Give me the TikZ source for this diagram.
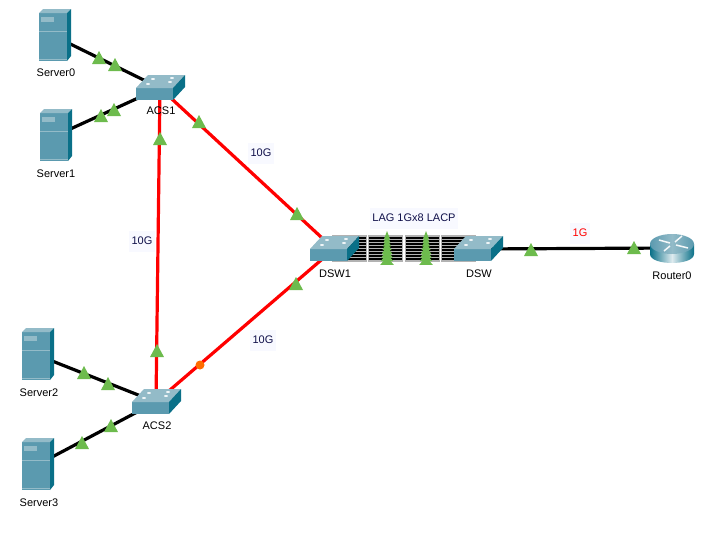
\documentclass[tikz,border=0pt]{standalone}
\usepackage{fontspec}
\setmainfont{Liberation Sans}
\definecolor{srvfront}{HTML}{5B9AAF}
\definecolor{srvtop}{HTML}{93BBC8}
\definecolor{srvside}{HTML}{0A7088}
\definecolor{linkgreen}{HTML}{6DBB4D}
\definecolor{labelbg}{HTML}{F8F9FF}
\definecolor{labelblue}{HTML}{10104A}
\tikzset{
  devname/.style={font=\fontsize{11pt}{13pt}\selectfont, inner sep=0pt, text=black},
  devhub/.style={inner sep=0pt, minimum size=1pt},
  linklabel/.style={font=\fontsize{11pt}{13pt}\selectfont, fill=labelbg, inner xsep=2.5pt, inner ysep=0pt, minimum height=21pt},
  cuwire/.style={color=black, line width=3.2pt},
  fibre/.style={color=red, line width=3.2pt},
}
\newcommand{\Server}[1]{
\fill[srvfront] (#1) ++(-15,-23) rectangle ++(28,48);
\fill[srvtop] (#1) ++(-15,-23) -- ++(4,-4) -- ++(28,0) -- ++(-4,4) -- cycle;
\fill[srvside] (#1) ++(13,-23) -- ++(4,-4) -- ++(0,47) -- ++(-4,5) -- cycle;
\fill[srvtop] (#1) ++(-13,-19) rectangle ++(13,5);
\draw[srvtop, thin] (#1) ++(-15,-5) -- ++(28,0);
\draw[srvtop, thin] (#1) ++(-15,23) -- ++(28,0);
}
\newcommand{\Switch}[1]{
\fill[srvfront] (#1) ++(-24,0) rectangle ++(37,12);
\fill[srvtop] (#1) ++(-24,0) -- ++(12,-13) -- ++(37,0) -- ++(-12,13) -- cycle;
\fill[srvside] (#1) ++(13,0) -- ++(12,-13) -- ++(0,12) -- ++(-12,13) -- cycle;
\foreach \dx/\dy in {-7/-9,12/-10,-12/-4,10/-6}
  \fill[white!85!srvtop] (#1) ++(\dx,\dy) ellipse (2 and 1);
}
\newcommand{\LinkMark}[1]{
\fill[linkgreen] (#1) ++(0,-7) -- ++(7,13) -- ++(-14,0) -- cycle;
}
\begin{document}
\begin{tikzpicture}[x=1pt,y=-1pt]
\useasboundingbox (0,0) rectangle (717,538);

\node[devhub] (server0) at (54,36) {};
\node[devhub] (server1) at (55,136) {};
\node[devhub] (server2) at (37,355) {};
\node[devhub] (server3) at (37,465) {};
\node[devhub] (acs1) at (160,88) {};
\node[devhub] (acs2) at (156,402) {};
\node[devhub] (dsw1) at (334,249) {};
\node[devhub] (dsw) at (478,249) {};
\node[devhub] (router0) at (672,248) {};

% LAG bundle
\foreach \bx in {332.5,369,405.5,442}
  \fill[black!30] (\bx-1,235) rectangle ++(35,26.5);
\foreach \bx in {332.5,369,405.5,442}
  \foreach \by in {236.5,239.5,...,258.5}
    \fill[black] (\bx,\by) rectangle ++(33,2.6);

\draw[cuwire] (server0) -- (acs1);
\draw[cuwire] (server1) -- (acs1);
\draw[cuwire] (server2) -- (acs2);
\draw[cuwire] (server3) -- (acs2);
\draw[cuwire] (dsw) -- (router0);
\draw[fibre] (acs1) -- (acs2);
\draw[fibre] (acs1) -- (dsw1);
\draw[fibre] (acs2) -- (dsw1);

\Server{server0}
\Server{server1}
\Server{server2}
\Server{server3}
\Switch{acs1}
\Switch{acs2}
\Switch{dsw1}
\Switch{dsw}

% router
\shade[left color=srvside, right color=srvside, middle color=white!80!srvfront] (650,244) -- (650,254) .. controls (650,266) and (694,266) .. (694,254) -- (694,244) -- cycle;
\shade[left color=srvfront, right color=srvfront, middle color=srvtop] (672,244) ellipse (22 and 10);
\draw[white!90!srvtop, line width=1.5pt] (659,240) -- (670,243);
\draw[white!90!srvtop, line width=1.5pt] (682,236) -- (675,242);
\draw[white!90!srvtop, line width=1.5pt] (670,246) -- (664,251);
\draw[white!90!srvtop, line width=1.5pt] (676,245) -- (688,248);

\foreach \px/\py in {99/58,115/65,101/116,114/110,160/139,199/122,297/214,296/284,157/351,84/373,108/384,82/443,111/426,531/250,634/248} {
  \coordinate (mark) at (\px,\py);
  \LinkMark{mark}
}
\foreach \px in {387,426}
  \foreach \k in {0,...,7}
    \fill[linkgreen] (\px,231+\k*3.7) -- ++(3+\k*0.55,8) -- ++(-6-\k*1.1,0) -- cycle;
\fill[orange!85!red] (200,365) circle (4.5);

\node[devname] (server0name) at (56,73) {Server0};
\node[devname] (server1name) at (56,174) {Server1};
\node[devname] (server2name) at (39,393) {Server2};
\node[devname] (server3name) at (39,503) {Server3};
\node[devname] (acs1name) at (161,111) {ACS1};
\node[devname] (acs2name) at (157,426) {ACS2};
\node[devname] (dsw1name) at (335,274) {DSW1};
\node[devname] (dswname) at (479,274) {DSW};
\node[devname] (router0name) at (672,276) {Router0};

\node[linklabel, text=labelblue] (link10ga) at (261,153) {10G};
\node[linklabel, text=labelblue] (link10gb) at (142,241) {10G};
\node[linklabel, text=labelblue] (link10gc) at (263,340) {10G};
\node[linklabel, text=labelblue] (lagname) at (414,218) {LAG 1Gx8 LACP};
\node[linklabel, text=red] (link1g) at (580,233) {1G};

\end{tikzpicture}
\end{document}
